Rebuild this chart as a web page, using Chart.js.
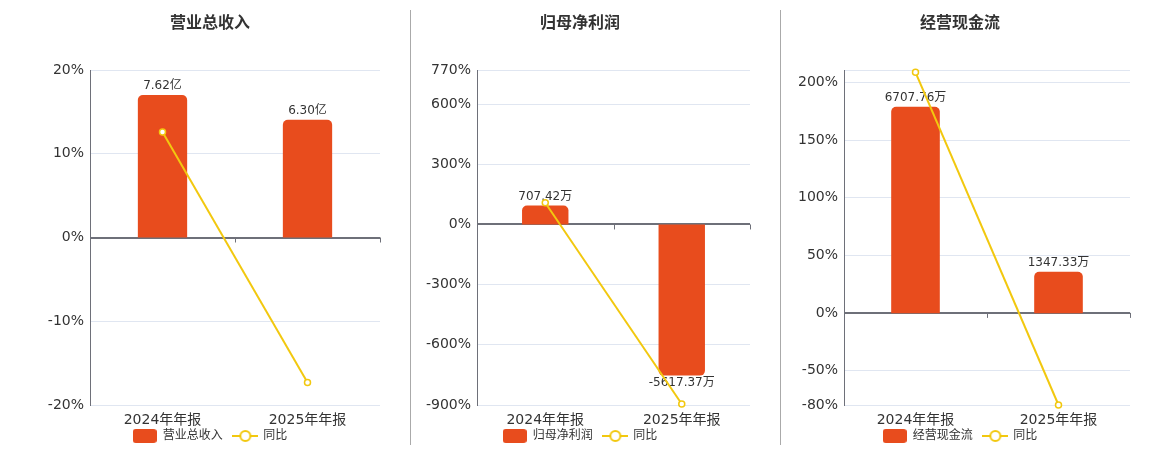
<!DOCTYPE html>
<html>
<head>
<meta charset="utf-8">
<script src="https://cdn.jsdelivr.net/npm/chart.js@4.4.1/dist/chart.umd.min.js"></script>
<style>
  body { margin: 0; background: #fff; }
  #wrap { position: relative; width: 1160px; height: 450px; overflow: hidden; }
  canvas { position: absolute; top: 0; }
  .sep { position: absolute; top: 10px; width: 1px; height: 435px; background: #aaa; }
</style>
</head>
<body>
<div id="wrap">
  <div class="sep" style="left:410px"></div>
  <div class="sep" style="left:780px"></div>
  <canvas id="c1" width="420" height="450" style="left:0px"></canvas>
  <canvas id="c2" width="360" height="450" style="left:400px"></canvas>
  <canvas id="c3" width="358" height="450" style="left:781px"></canvas>
</div>
<script>
// categorias y valores
const categories = ['2024年年报', '2025年年报'];

const revenue = [7.62, 6.30];          // 亿
const revenueYoy = [12.6, -17.3];      // %
const revenueTicks = [-20, -10, 0, 10, 20];

const profit = [707.42, -5617.37];     // 万
const profitYoy = [108, -895];
const profitTicks = [-900, -600, -300, 0, 300, 600, 770];

const cashflow = [6707.76, 1347.33];   // 万
const cashflowYoy = [209, -80];
const cashflowTicks = [-80, -50, 0, 50, 100, 150, 200];

const BAR = '#E84C1D';
const LINE = '#F2C80F';
const FONT = '"DejaVu Sans", "Noto Sans CJK SC", sans-serif';

Chart.defaults.font.family = FONT;
Chart.defaults.color = '#333';

// iconos de la leyenda
function barIcon() {
    const c = document.createElement('canvas');
    c.width = 24; c.height = 14;
    const g = c.getContext('2d');
    g.fillStyle = BAR;
    g.beginPath();
    g.roundRect(0, 0, 24, 14, 3);
    g.fill();
    return c;
}
function lineIcon() {
    const c = document.createElement('canvas');
    c.width = 26; c.height = 14;
    const g = c.getContext('2d');
    g.strokeStyle = LINE;
    g.lineWidth = 2;
    g.beginPath(); g.moveTo(0, 7); g.lineTo(26, 7); g.stroke();
    g.fillStyle = '#fff';
    g.beginPath(); g.arc(13, 7, 5, 0, Math.PI * 2); g.fill(); g.stroke();
    return c;
}
const icons = [barIcon(), lineIcon()];

// etiquetas sobre las barras y marcas del eje en cero
const barLabels = {
    id: 'barLabels',
    afterDatasetDraw(chart, args) {
        if (args.index !== 0) return;
        const ctx = chart.ctx;
        const unit = chart.options.plugins.barLabels.unit;
        const ds = chart.data.datasets[0];
        ctx.save();
        ctx.font = '12px ' + FONT;
        ctx.fillStyle = '#333';
        ctx.textAlign = 'center';
        args.meta.data.forEach((el, i) => {
            const v = ds.data[i];
            if (v >= 0) {
                ctx.textBaseline = 'bottom';
                ctx.fillText(v.toFixed(2) + unit, el.x, el.y - 3);
            } else {
                ctx.textBaseline = 'top';
                ctx.fillText(v.toFixed(2) + unit, el.x, el.y + 1);
            }
        });
        ctx.restore();
    },
    beforeDatasetsDraw(chart) {
        const ctx = chart.ctx;
        const x = chart.scales.x;
        const y0 = chart.scales.y.getPixelForValue(0);
        ctx.save();
        ctx.strokeStyle = '#6E7079';
        ctx.lineWidth = 1;
        for (let i = 0; i < categories.length; i++) {
            const px = i < categories.length - 1
                ? (x.getPixelForValue(i) + x.getPixelForValue(i + 1)) / 2
                : chart.chartArea.right;
            ctx.beginPath();
            ctx.moveTo(Math.round(px) + 0.5, y0);
            ctx.lineTo(Math.round(px) + 0.5, y0 + 5);
            ctx.stroke();
        }
        ctx.restore();
    }
};

function makeChart(id, opt) {
    return new Chart(document.getElementById(id), {
        data: {
            labels: categories,
            datasets: [
                {
                    type: 'bar', label: opt.name, data: opt.values, yAxisID: 'y2',
                    backgroundColor: BAR, borderRadius: 5, borderSkipped: 'start',
                    barPercentage: 0.34, categoryPercentage: 1, order: 1
                },
                {
                    type: 'line', label: '同比', data: opt.yoy, yAxisID: 'y',
                    borderColor: LINE, borderWidth: 2, tension: 0,
                    pointRadius: 3, pointBackgroundColor: '#fff',
                    pointBorderColor: LINE, pointBorderWidth: 1.5, clip: false, order: 0
                }
            ]
        },
        options: {
            responsive: false,
            animation: false,
            layout: { padding: { left: 0, right: 0, top: 0, bottom: -2 } },
            plugins: {
                title: {
                    display: true, text: opt.name, color: '#333',
                    font: { size: 16, weight: 'bold', family: FONT },
                    padding: { top: 14.5, bottom: 36.3 }
                },
                legend: {
                    position: 'bottom',
                    labels: {
                        usePointStyle: true, pointStyleWidth: 24, padding: 3,
                        font: { size: 12, family: FONT }, color: '#333',
                        // espacios para separar los elementos de la leyenda
                        generateLabels: chart => chart.data.datasets.map((ds, i) => ({
                            text: i === 0 ? ds.label + '  ' : ds.label,
                            pointStyle: icons[i], datasetIndex: i,
                            fontColor: '#333', lineWidth: 0,
                            fillStyle: 'transparent', strokeStyle: 'transparent'
                        }))
                    }
                },
                tooltip: { enabled: false },
                barLabels: { unit: opt.unit }
            },
            scales: {
                x: {
                    grid: { display: false, drawTicks: false },
                    border: { display: false },
                    ticks: { font: { size: 14 }, color: '#333', padding: 7 },
                    afterFit: s => { s.height = 22; }
                },
                y: {
                    position: 'left',
                    min: opt.min, max: opt.max,
                    afterBuildTicks: s => {
                        const t = opt.ticks.slice();
                        if (!t.includes(opt.max)) t.push(opt.max);
                        s.ticks = t.map(v => ({ value: v }));
                    },
                    afterFit: s => { s.width = opt.axisWidth; },
                    ticks: {
                        font: { size: 14 }, color: '#333', padding: 6,
                        callback: v => opt.ticks.includes(v) ? v + '%' : ''
                    },
                    grid: {
                        drawTicks: false,
                        color: c => c.tick && c.tick.value === 0 ? '#6E7079' : '#E0E6F1',
                        lineWidth: c => c.tick && c.tick.value === 0 ? 2 : 1
                    },
                    border: { display: true, color: '#6E7079', width: 1 }
                },
                y2: {
                    // eje oculto de los importes, solo reserva el margen derecho
                    position: 'right',
                    min: opt.barMin, max: opt.barMax,
                    ticks: { display: false },
                    grid: { display: false },
                    border: { display: false },
                    afterFit: s => { s.width = opt.padRight; }
                }
            }
        },
        plugins: [barLabels]
    });
}

makeChart('c1', {
    name: '营业总收入', values: revenue, yoy: revenueYoy, unit: '亿',
    ticks: revenueTicks, min: -20, max: 20, barMin: -8.96, barMax: 8.96,
    axisWidth: 90, padRight: 40
});
makeChart('c2', {
    name: '归母净利润', values: profit, yoy: profitYoy, unit: '万',
    ticks: profitTicks, min: -900, max: 770, barMin: -6709, barMax: 5740,
    axisWidth: 77, padRight: 10
});
makeChart('c3', {
    name: '经营现金流', values: cashflow, yoy: cashflowYoy, unit: '万',
    ticks: cashflowTicks, min: -80, max: 211, barMin: -2983, barMax: 7903,
    axisWidth: 63, padRight: 9
});
</script>
</body>
</html>
